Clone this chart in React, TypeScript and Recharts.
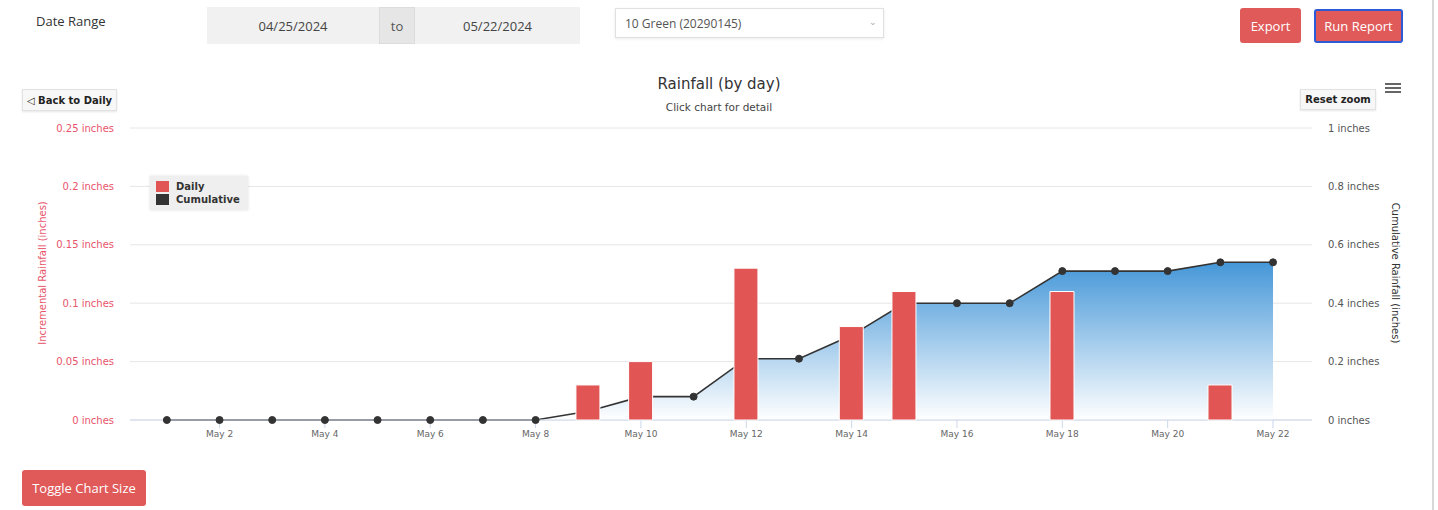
import { ComposedChart, Bar, Area, XAxis, YAxis, CartesianGrid, Legend } from 'recharts'

const days = [1, 2, 3, 4, 5, 6, 7, 8, 9, 10, 11, 12, 13, 14, 15, 16, 17, 18, 19, 20, 21, 22]
const dailyRain = [0, 0, 0, 0, 0, 0, 0, 0, 0.03, 0.05, 0, 0.13, 0, 0.08, 0.11, 0, 0, 0.11, 0, 0, 0.03, 0]
const cumulativeRain = [0, 0, 0, 0, 0, 0, 0, 0, 0.03, 0.08, 0.08, 0.21, 0.21, 0.29, 0.4, 0.4, 0.4, 0.51, 0.51, 0.51, 0.54, 0.54]
const dayTicks = [2, 4, 6, 8, 10, 12, 14, 16, 18, 20, 22]
const dailyTicks = [0, 0.05, 0.1, 0.15, 0.2, 0.25]
const cumulativeTicks = [0, 0.2, 0.4, 0.6, 0.8, 1]

const data = days.map((day, i) => ({
  day,
  daily: dailyRain[i],
  cumulative: cumulativeRain[i],
}))

const chartFont = '"DejaVu Sans", Verdana, sans-serif'
const uiFont = '"Open Sans", sans-serif'
const red = '#e05a5a'
const barRed = '#e25555'

function LegendBox() {
  const row = (color: string, label: string) => (
    <div style={{ display: 'flex', alignItems: 'center', height: 13 }}>
      <span style={{ width: 13, height: 11, background: color, marginRight: 7 }} />
      <span style={{ fontWeight: 'bold', fontSize: 10, color: '#333' }}>{label}</span>
    </div>
  )
  return (
    <div
      style={{
        background: '#efefef',
        boxShadow: '0 0 3px rgba(0,0,0,0.12)',
        padding: '4px 6px',
        fontFamily: chartFont,
        width: 86,
      }}
    >
      {row(barRed, 'Daily')}
      {row('#333333', 'Cumulative')}
    </div>
  )
}

const btn = {
  position: 'absolute' as const,
  background: red,
  color: '#fff',
  fontFamily: uiFont,
  fontSize: 13,
  display: 'flex',
  alignItems: 'center',
  justifyContent: 'center',
  borderRadius: 3,
  boxSizing: 'border-box' as const,
}

const smallBtn = {
  position: 'absolute' as const,
  background: '#f7f7f7',
  border: '1px solid #e2e2e2',
  boxShadow: '0 1px 2px rgba(0,0,0,0.1)',
  color: '#222',
  fontFamily: chartFont,
  fontSize: 10,
  fontWeight: 'bold' as const,
  display: 'flex',
  alignItems: 'center',
  justifyContent: 'center',
  boxSizing: 'border-box' as const,
}

export default function App() {
  return (
    <div style={{ position: 'absolute', left: 0, top: 0, width: 1438, height: 510, background: '#fff', overflow: 'hidden' }}>
      {/* form row */}
      <div style={{ position: 'absolute', left: 36, top: 12, fontFamily: uiFont, fontSize: 13, color: '#333' }}>Date Range</div>
      <div style={{ position: 'absolute', left: 207, top: 7, width: 373, height: 37, background: '#f1f1f1' }} />
      <div style={{ position: 'absolute', left: 207, top: 7, width: 172, height: 37, display: 'flex', alignItems: 'center', justifyContent: 'center', fontFamily: uiFont, fontSize: 13, color: '#444' }}>04/25/2024</div>
      <div style={{ position: 'absolute', left: 379, top: 7, width: 36, height: 37, background: '#e6e6e6', border: '1px solid #dcdcdc', boxSizing: 'border-box', display: 'flex', alignItems: 'center', justifyContent: 'center', fontFamily: uiFont, fontSize: 13, color: '#555' }}>to</div>
      <div style={{ position: 'absolute', left: 415, top: 7, width: 165, height: 37, display: 'flex', alignItems: 'center', justifyContent: 'center', fontFamily: uiFont, fontSize: 13, color: '#444' }}>05/22/2024</div>
      <div style={{ position: 'absolute', left: 615, top: 8, width: 269, height: 30, border: '1px solid #e0e0e0', boxShadow: '0 1px 3px rgba(0,0,0,0.08)', boxSizing: 'border-box', display: 'flex', alignItems: 'center', paddingLeft: 9, fontFamily: uiFont, fontSize: 12, color: '#555' }}>
        10 Green (20290145)
        <span style={{ position: 'absolute', right: 6, top: 6, fontSize: 9, color: '#aaa' }}>⌄</span>
      </div>
      <div style={{ ...btn, left: 1240, top: 8, width: 61, height: 35 }}>Export</div>
      <div style={{ ...btn, left: 1314, top: 9, width: 89, height: 34, border: '2px solid #2d5ad6' }}>Run Report</div>

      {/* chart chrome */}
      <div style={{ position: 'absolute', left: 0, width: 1438, top: 75, textAlign: 'center', fontFamily: chartFont, fontSize: 15, color: '#333' }}>Rainfall (by day)</div>
      <div style={{ position: 'absolute', left: 0, width: 1438, top: 101, textAlign: 'center', fontFamily: chartFont, fontSize: 10.5, color: '#444' }}>Click chart for detail</div>
      <div style={{ ...smallBtn, left: 22, top: 89, width: 95, height: 22 }}>◁ Back to Daily</div>
      <div style={{ ...smallBtn, left: 1300, top: 89, width: 76, height: 21 }}>Reset zoom</div>
      <div style={{ position: 'absolute', left: 1385, top: 83, width: 16 }}>
        {[0, 1, 2].map((i) => (
          <div key={i} style={{ height: 2, background: '#666', marginBottom: 2 }} />
        ))}
      </div>
      <div style={{ position: 'absolute', left: 42, top: 273, transform: 'translate(-50%, -50%) rotate(-90deg)', whiteSpace: 'nowrap', fontFamily: chartFont, fontSize: 10, color: '#e8546a' }}>
        Incremental Rainfall (inches)
      </div>
      <div style={{ position: 'absolute', left: 1395, top: 273, transform: 'translate(-50%, -50%) rotate(90deg)', whiteSpace: 'nowrap', fontFamily: chartFont, fontSize: 10, color: '#333' }}>
        Cumulative Rainfall (inches)
      </div>

      <div style={{ position: 'absolute', left: 0, top: 0 }}>
        <ComposedChart width={1438} height={510} data={data} margin={{ top: 128, right: 0, bottom: 60, left: 0 }}>
          <defs>
            <linearGradient id="cumFill" x1="0" y1="0" x2="0" y2="1">
              <stop offset="0%" stopColor="#4597d8" stopOpacity={1} />
              <stop offset="100%" stopColor="#ffffff" stopOpacity={1} />
            </linearGradient>
          </defs>
          <CartesianGrid yAxisId="right" vertical={false} stroke="#e6e6e6" />
          <XAxis
            dataKey="day"
            type="number"
            domain={[0.3, 22.74]}
            allowDataOverflow
            ticks={dayTicks}
            tickFormatter={(d) => `May ${d}`}
            height={30}
            stroke="#ccd6eb"
            tickSize={8}
            tickMargin={3}
            tick={{ fill: '#666', fontSize: 9, fontFamily: chartFont }}
          />
          <YAxis
            yAxisId="left"
            orientation="left"
            width={130}
            domain={[0, 0.25]}
            ticks={dailyTicks}
            tickFormatter={(v) => `${v} inches`}
            axisLine={false}
            tickLine={false}
            tickSize={8}
            tickMargin={8}
            tick={{ fill: '#e8546a', fontSize: 10, fontFamily: chartFont }}
          />
          <YAxis
            yAxisId="right"
            orientation="right"
            width={126}
            domain={[0, 1]}
            ticks={cumulativeTicks}
            tickFormatter={(v) => `${v} inches`}
            axisLine={false}
            tickLine={false}
            tickSize={8}
            tickMargin={8}
            tick={{ fill: '#555', fontSize: 10, fontFamily: chartFont, textAnchor: 'start' }}
          />
          <Legend
            layout="vertical"
            align="center"
            verticalAlign="middle"
            content={() => <LegendBox />}
            wrapperStyle={{ position: 'absolute', left: 150, top: 176, width: 98 }}
          />
          <Area
            yAxisId="right"
            dataKey="cumulative"
            type="linear"
            stroke="#333"
            strokeWidth={1.6}
            fill="url(#cumFill)"
            fillOpacity={1}
            dot={{ r: 3.5, fill: '#333', stroke: '#333', strokeWidth: 1 }}
            isAnimationActive={false}
          />
          <Bar
            yAxisId="left"
            dataKey="daily"
            barSize={24}
            fill={barRed}
            stroke="#ffffff"
            strokeWidth={1}
            zIndex={900}
            isAnimationActive={false}
          />
        </ComposedChart>
      </div>

      <div style={{ ...btn, left: 22, top: 470, width: 124, height: 36 }}>Toggle Chart Size</div>
      <div style={{ position: 'absolute', left: 1432, top: 0, width: 2, height: 510, background: '#d8d8d8' }} />
    </div>
  )
}
